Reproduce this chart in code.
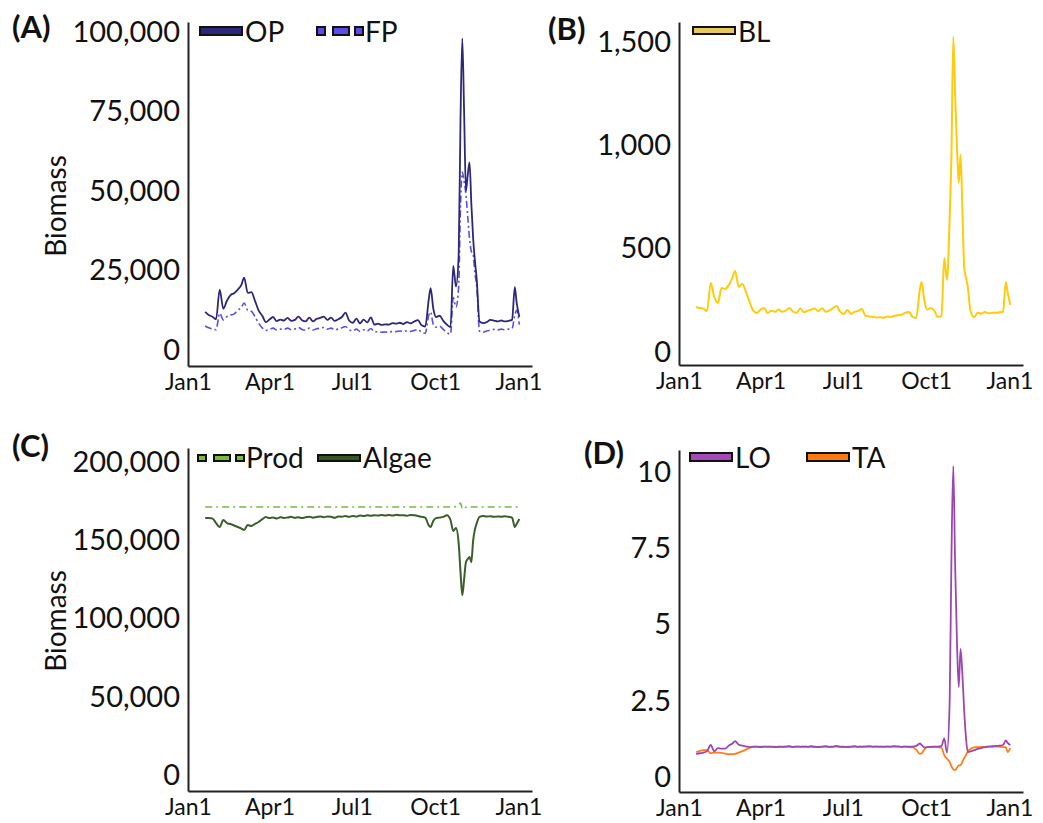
<!DOCTYPE html>
<html>
<head>
<meta charset="utf-8">
<script src="https://cdn.jsdelivr.net/npm/d3@7"></script>
<style>
  body { margin: 0; background: #fff; }
  text { font-family: Lato, 'Open Sans', sans-serif; }
</style>
</head>
<body>
<div id="chart"></div>
<script>
// day of year for every model output
var days = [19, 23, 27, 31, 35, 39, 43, 47, 51, 55,
  59, 62, 66, 70, 74, 78, 82, 86, 90, 94,
  98, 102, 106, 110, 114, 118, 122, 126, 130, 134,
  138, 142, 146, 150, 154, 158, 162, 166, 170, 174,
  178, 182, 186, 190, 194, 198, 202, 206, 210, 214,
  218, 222, 226, 230, 234, 238, 242, 246, 250, 254,
  258, 262, 266, 268, 271, 274, 278, 282, 286, 290,
  293, 296, 299, 301, 303, 305, 307, 309, 311, 313,
  315, 317, 319, 322, 326, 330, 334, 338, 342, 346,
  350, 354, 358, 361, 363, 366]

var op = [12000, 11000, 10500, 9700, 19000, 13000, 15500, 17300, 17900, 19000,
  20500, 22800, 18000, 18200, 15500, 12500, 10800, 8800, 9600, 10400,
  9100, 9600, 9300, 10100, 9200, 9500, 10500, 9400, 9000, 10200,
  9000, 9800, 10100, 10500, 9500, 10200, 9200, 9700, 10400, 11800,
  9300, 8600, 9900, 8400, 9600, 8700, 10300, 8000, 8300, 7900,
  8100, 8000, 8500, 8300, 8600, 8200, 8800, 8400, 9000, 9400,
  7800, 7400, 16000, 19500, 13000, 10400, 10800, 9200, 8000, 7200,
  26500, 20000, 30000, 72000, 98000, 75000, 50000, 55000, 59000, 46000,
  35000, 28000, 22000, 9000, 8500, 8800, 9500, 9300, 9000, 9300,
  9000, 9200, 9500, 19800, 15000, 10400]

var fp = [7600, 7000, 6600, 6400, 11600, 9500, 10500, 11000, 11400, 12500,
  13500, 14800, 12500, 12200, 10500, 8500, 7000, 6200, 6500, 6900,
  6300, 6600, 6500, 6900, 6400, 6600, 7100, 6500, 6300, 6900,
  6300, 6700, 6900, 7100, 6600, 6900, 6400, 6600, 7000, 7400,
  6400, 6000, 6600, 5900, 6400, 6000, 6800, 5700, 5800, 5600,
  5700, 5600, 5900, 5800, 6000, 5800, 6100, 5900, 6200, 6500,
  5600, 5300, 11000, 12000, 8000, 7200, 7500, 6500, 5500, 5000,
  16500, 13500, 20000, 45000, 56000, 53000, 49000, 42000, 35000, 31000,
  30000, 24000, 20000, 6000, 5600, 6000, 6300, 6500, 6300, 6600,
  6400, 6600, 6800, 11000, 12500, 8000]

var bl = [218, 213, 210, 198, 334, 266, 237, 310, 305, 324,
  360, 392, 315, 329, 290, 242, 200, 189, 205, 213,
  189, 200, 195, 205, 195, 200, 213, 195, 190, 210,
  192, 200, 205, 210, 198, 212, 195, 200, 212, 223,
  195, 184, 203, 185, 194, 199, 208, 175, 172, 170,
  167, 168, 165, 172, 170, 175, 178, 180, 190, 194,
  170, 165, 300, 339, 250, 205, 213, 200, 170, 175,
  455, 350, 650, 963, 1525, 1250, 1000, 818, 954, 700,
  411, 360, 315, 200, 169, 190, 185, 194, 188, 190,
  190, 192, 195, 339, 290, 228]

var prod = [171300, 171300, 171300, 171300, 171300, 171300, 171300, 171300, 171300, 171300,
  171300, 171300, 171300, 171300, 171300, 171300, 171300, 171300, 171300, 171300,
  171300, 171300, 171300, 171300, 171300, 171300, 171300, 171300, 171300, 171300,
  171300, 171300, 171300, 171300, 171300, 171300, 171300, 171300, 171300, 171300,
  171300, 171300, 171300, 171300, 171300, 171300, 171300, 171300, 171300, 171300,
  171300, 171300, 171300, 171300, 171300, 171300, 171300, 171300, 171300, 171300,
  171300, 171300, 171300, 171300, 171300, 171300, 171300, 171300, 171300, 171300,
  171300, 171600, 172500, 173800, 170600, 172000, 171000, 171300, 171300, 171300,
  171300, 171300, 171300, 171300, 171300, 171300, 171300, 171300, 171300, 171300,
  171300, 171300, 171300, 171300, 171300, 171300]

var algae = [164200, 164200, 164000, 161000, 158500, 163000, 161000, 160400, 159500, 158500,
  157500, 156600, 159800, 159100, 160500, 161700, 163500, 164900, 164200, 164600,
  164000, 164800, 164300, 164600, 165000, 164400, 164700, 164200, 164800, 165100,
  164500, 164900, 165300, 164800, 165200, 165000, 164400, 165300, 165100, 165500,
  165000, 165600, 165200, 165800, 165500, 166000, 165700, 166100, 165800, 166200,
  165900, 166200, 165800, 166300, 166000, 166100, 165700, 166200, 166000, 165600,
  165000, 164500, 159500, 158500, 162500, 164200, 164500, 165000, 166100, 163000,
  156000, 157800, 148000, 130000, 115000, 125000, 136000, 138000, 139300, 136000,
  150000, 157000, 161000, 165000, 165500, 165200, 165400, 165000, 165300, 165100,
  165400, 165000, 164500, 158500, 160500, 163600]

var lo = [0.75, 0.78, 0.8, 0.85, 1.05, 0.84, 0.95, 0.93, 0.93, 1.03,
  1.1, 1.18, 1.06, 1.03, 1.0, 0.98, 0.99, 1.0, 0.98, 1.0,
  0.99, 1.0, 0.98, 1.0, 0.99, 1.0, 1.01, 0.99, 1.0, 0.99,
  1.0, 0.99, 1.01, 1.0, 0.98, 1.0, 1.01, 0.99, 1.0, 1.02,
  0.99, 1.0, 0.98, 1.0, 1.01, 0.99, 1.0, 1.0, 1.01, 1.0,
  1.0, 1.0, 0.99, 1.0, 1.0, 1.01, 1.0, 0.99, 1.0, 1.0,
  1.0, 1.02, 1.1, 1.05, 0.97, 0.98, 0.99, 1.0, 1.0, 1.02,
  1.27, 0.8, 2.5, 7.3, 10.2, 7.0, 4.5, 2.95, 4.2, 3.4,
  2.2, 1.3, 0.82, 0.84, 0.88, 0.92, 0.95, 0.98, 1.0, 1.01,
  1.02, 1.03, 1.05, 1.2, 1.12, 1.05]

var ta = [0.82, 0.86, 0.88, 0.88, 0.78, 0.8, 0.8, 0.79, 0.77, 0.75,
  0.75, 0.76, 0.8, 0.85, 0.9, 0.96, 1.0, 0.99, 1.0, 0.99,
  1.0, 0.99, 1.0, 0.98, 1.0, 0.99, 1.0, 0.98, 1.0, 1.0,
  0.99, 1.0, 1.0, 0.98, 1.0, 0.99, 1.0, 1.0, 0.99, 1.0,
  1.0, 0.98, 1.0, 0.99, 1.0, 1.0, 0.99, 1.0, 1.0, 0.99,
  1.0, 0.99, 1.0, 1.0, 0.99, 1.0, 1.0, 0.99, 1.0, 0.98,
  0.97, 0.9, 0.76, 0.78, 0.9, 0.98, 0.98, 0.99, 0.98, 0.96,
  0.72, 0.6, 0.5, 0.35, 0.25, 0.23, 0.3, 0.38, 0.39, 0.5,
  0.62, 0.72, 0.85, 0.92, 0.97, 0.98, 0.99, 0.99, 1.0, 0.99,
  1.0, 0.99, 0.98, 0.98, 0.82, 0.95]

var monthTicks = [0, 90, 181, 273, 365]
var monthLabels = ['Jan1', 'Apr1', 'Jul1', 'Oct1', 'Jan1']

var svg = d3
  .select('#chart')
  .append('svg')
  .attr('width', 1043)
  .attr('height', 823)
  .style('background', '#fff')

var panels = [
  {
    tag: '(A)', tagX: 12, tagY: 38,
    left: 188, top: 22, bottom: 366,
    yDomain: [-5000, 103150],
    yTicks: [0, 25000, 50000, 75000, 100000],
    fmt: d3.format(','),
    ylabel: 'Biomass', ylabelY: 206,
    series: [
      { values: fp, color: '#5b4ee8', dash: '7,3,2,3', width: 1.6 },
      { values: op, color: '#2c2878', dash: null, width: 1.8 }
    ],
    legend: [
      { x: 200, label: 'OP', color: '#2c2878', dashed: false },
      { x: 317, label: 'FP', color: '#5b4ee8', dashed: true }
    ],
    legY: 27, legH: 8, textY: 42
  },
  {
    tag: '(B)', tagX: 548, tagY: 40,
    left: 679, top: 22, bottom: 365,
    yDomain: [-63, 1597],
    yTicks: [0, 500, 1000, 1500],
    fmt: d3.format(','),
    series: [{ values: bl, color: '#ffcb0a', dash: null, width: 2 }],
    legend: [{ x: 693, label: 'BL', color: '#e6c85c', dashed: false }],
    legY: 27, legH: 7, textY: 42
  },
  {
    tag: '(C)', tagX: 12, tagY: 457,
    left: 188, top: 448, bottom: 791,
    yDomain: [-10200, 209000],
    yTicks: [0, 50000, 100000, 150000, 200000],
    fmt: d3.format(','),
    ylabel: 'Biomass', ylabelY: 621,
    series: [
      { values: prod, color: '#78b844', dash: '7,4,2,4', width: 1.6 },
      { values: algae, color: '#3b5e2b', dash: null, width: 2 }
    ],
    legend: [
      { x: 198, label: 'Prod', color: '#7dba45', dashed: true },
      { x: 318, label: 'Algae', color: '#375623', dashed: false }
    ],
    legY: 455, legH: 6, textY: 468
  },
  {
    tag: '(D)', tagX: 584, tagY: 464,
    left: 679, top: 450, bottom: 792,
    yDomain: [-0.49, 10.72],
    yTicks: [0, 2.5, 5, 7.5, 10],
    fmt: d => String(d),
    series: [
      { values: ta, color: '#ff7d1a', dash: null, width: 1.8 },
      { values: lo, color: '#9c46b2', dash: null, width: 1.8 }
    ],
    legend: [
      { x: 690, label: 'LO', color: '#a34ab5', dashed: false },
      { x: 807, label: 'TA', color: '#ff7a10', dashed: false }
    ],
    legY: 453, legH: 8, textY: 468
  }
]

panels.forEach(function(p) {
  var g = svg.append('g')

  var x = d3
    .scaleLinear()
    .domain([0, 380])
    .range([p.left, p.left + 344])

  var y = d3
    .scaleLinear()
    .domain(p.yDomain)
    .range([p.bottom, p.top])

  var line = d3
    .line()
    .x((d, i) => x(days[i]))
    .y(d => y(d))
    .curve(d3.curveMonotoneX)

  p.series.forEach(function(s) {
    g.append('path')
      .datum(s.values)
      .attr('d', line)
      .attr('fill', 'none')
      .attr('stroke', s.color)
      .attr('stroke-width', s.width)
      .attr('stroke-dasharray', s.dash)
      .attr('stroke-linejoin', 'round')
  })

  // axes
  var yAxis = g
    .append('g')
    .attr('transform', `translate(${p.left},0)`)
    .call(
      d3
        .axisLeft(y)
        .tickValues(p.yTicks)
        .tickFormat(p.fmt)
        .tickSize(0)
        .tickPadding(8)
    )
  yAxis.select('.domain').attr('stroke', '#222').attr('stroke-width', 2)
  yAxis
    .selectAll('text')
    .style('font-size', '29px')
    .attr('fill', '#111')
    .attr('font-family', 'Lato')

  var xAxis = g
    .append('g')
    .attr('transform', `translate(0,${p.bottom})`)
    .call(
      d3
        .axisBottom(x)
        .tickValues(monthTicks)
        .tickFormat((d, i) => monthLabels[i])
        .tickSize(0)
        .tickPadding(8)
    )
  xAxis.select('.domain').attr('stroke', '#222').attr('stroke-width', 2)
  xAxis
    .selectAll('text')
    .style('font-size', '23px')
    .attr('fill', '#111')
    .attr('font-family', 'Lato')

  // panel tag
  g.append('text')
    .attr('x', p.tagX)
    .attr('y', p.tagY)
    .text(p.tag)
    .style('font-size', '31px')
    .style('font-weight', 'bold')
    .attr('fill', '#111')

  if (p.ylabel) {
    g.append('text')
      .attr('transform', `translate(66,${p.ylabelY}) rotate(-90)`)
      .attr('text-anchor', 'middle')
      .text(p.ylabel)
      .style('font-size', '28px')
      .attr('fill', '#111')
  }

  // legend
  p.legend.forEach(function(l) {
    var items = l.dashed
      ? [[0, 8], [16, 16], [38, 8]]
      : [[0, 42]]
    items.forEach(function(seg) {
      g.append('rect')
        .attr('x', l.x + seg[0])
        .attr('y', p.legY)
        .attr('width', seg[1])
        .attr('height', p.legH)
        .attr('fill', l.color)
        .attr('stroke', '#111')
        .attr('stroke-width', 2)
    })
    g.append('text')
      .attr('x', l.x + (l.dashed ? 48 : 45))
      .attr('y', p.textY)
      .text(l.label)
      .style('font-size', '28px')
      .attr('fill', '#111')
  })
})
</script>
</body>
</html>
